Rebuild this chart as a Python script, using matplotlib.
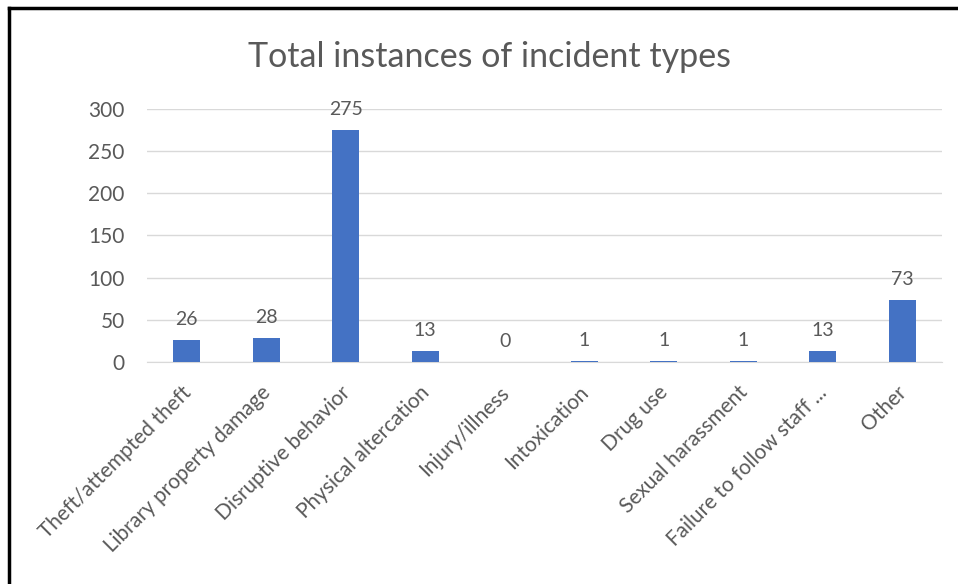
import matplotlib.pyplot as plt
import matplotlib.transforms as mtransforms
from matplotlib.lines import Line2D

categories = ["Theft/attempted theft", "Library property damage", "Disruptive behavior",
              "Physical altercation", "Injury/illness", "Intoxication", "Drug use",
              "Sexual harassment", "Failure to follow staff ...", "Other"]
counts = [26, 28, 275, 13, 0, 1, 1, 1, 13, 73]
yticks = [0, 50, 100, 150, 200, 250, 300]

plt.rcParams['font.family'] = ['Lato', 'DejaVu Sans']
txt = '#595959'

fig = plt.figure(figsize=(9.58, 5.84), dpi=100)
ax = fig.add_axes([0.1534, 0.3801, 0.8299, 0.4333])

x = range(len(categories))
bars = ax.bar(x, counts, width=0.34, color='#4472C4', zorder=3)
for b, v in zip(bars, counts):
    ax.annotate(str(v), (b.get_x() + b.get_width() / 2, v), xytext=(0, 9),
                textcoords='offset points', ha='center', va='bottom',
                fontsize=14, color=txt)

ax.set_xlim(-0.5, len(categories) - 0.5)
ax.set_ylim(0, 300)
ax.set_yticks(yticks)
ax.set_xticks(list(x))
ax.set_xticklabels(categories, rotation=45, ha='right', va='top', rotation_mode='anchor',
                   fontsize=15, color=txt)
ax.tick_params(axis='y', labelsize=15, labelcolor=txt, length=0, pad=16)
ax.tick_params(axis='x', length=0, pad=11)
ax.grid(axis='y', color='#d9d9d9', lw=1, zorder=0)
for s in ['top', 'right', 'left']:
    ax.spines[s].set_visible(False)
ax.spines['bottom'].set_color('#d9d9d9')

# nudge the rotated labels a little left/down
shift = mtransforms.ScaledTranslation(-0.06, -0.05, fig.dpi_scale_trans)
for lab in ax.get_xticklabels():
    lab.set_transform(lab.get_transform() + shift)

fig.text(0.511, 0.902, "Total instances of incident types", ha='center', va='center',
         fontsize=24.5, color=txt)

# black frame lines on top and left
fig.add_artist(Line2D([0.009, 1.0], [0.986, 0.986], color='black', lw=2.5,
                      transform=fig.transFigure))
fig.add_artist(Line2D([0.0095, 0.0095], [0.0, 0.986], color='black', lw=2.5,
                      transform=fig.transFigure))

fig.savefig('out.png', dpi=100)
